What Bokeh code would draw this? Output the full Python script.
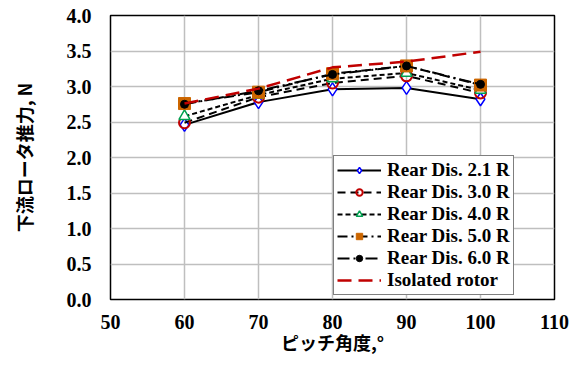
from bokeh.plotting import figure
from bokeh.models import FixedTicker, NumeralTickFormatter, Legend, LegendItem, Range1d
from bokeh.embed import file_html
from bokeh.resources import INLINE

pitch = [60, 70, 80, 90, 100]
rear_21 = [2.46, 2.78, 2.96, 2.98, 2.82]
rear_30 = [2.49, 2.85, 3.05, 3.15, 2.91]
rear_40 = [2.58, 2.88, 3.11, 3.19, 2.95]
rear_50 = [2.76, 2.92, 3.18, 3.29, 3.02]
rear_60 = [2.75, 2.94, 3.17, 3.29, 3.03]
isolated = [2.76, 2.97, 3.27, 3.35, 3.49]
labels = ["Rear Dis. 2.1 R", "Rear Dis. 3.0 R", "Rear Dis. 4.0 R",
          "Rear Dis. 5.0 R", "Rear Dis. 6.0 R", "Isolated rotor"]
x_title = "ピッチ角度,°"
y_title = "下流ロータ推力, N"

p = figure(width=571, height=357, output_backend="svg", toolbar_location=None,
           x_range=Range1d(50, 110), y_range=Range1d(0, 4))
p.min_border_left = 110
p.min_border_right = 17
p.min_border_top = 15
p.min_border_bottom = 57
p.outline_line_color = "black"
p.outline_line_width = 1.5
p.background_fill_color = "white"
p.border_fill_color = "white"

p.xaxis.ticker = FixedTicker(ticks=[50, 60, 70, 80, 90, 100, 110])
p.yaxis.ticker = FixedTicker(ticks=[0, 0.5, 1, 1.5, 2, 2.5, 3, 3.5, 4])
p.yaxis.formatter = NumeralTickFormatter(format="0.0")
for ax in (p.xaxis[0], p.yaxis[0]):
    ax.axis_line_color = None
    ax.major_tick_line_color = None
    ax.minor_tick_line_color = None
    ax.major_tick_out = 0
    ax.major_tick_in = 0
    ax.major_label_text_font = "Liberation Serif"
    ax.major_label_text_font_style = "bold"
    ax.major_label_text_font_size = "20px"
    ax.major_label_text_line_height = 1.0
    ax.major_label_text_color = "black"
    ax.axis_label_text_font = "Noto Sans CJK JP"
    ax.axis_label_text_font_style = "bold"
    ax.axis_label_text_font_size = "18px"
    ax.axis_label_text_line_height = 1.0
    ax.axis_label_text_color = "black"
p.xaxis.axis_label = x_title
p.yaxis.axis_label = y_title
p.xaxis.major_label_standoff = 15
p.yaxis.major_label_standoff = 19
p.xaxis.axis_label_standoff = -3
p.yaxis.axis_label_standoff = 27

p.grid.grid_line_color = "#bfbfbf"
p.grid.grid_line_width = 1.5

items = []
l1 = p.line(pitch, rear_21, line_color="black", line_width=2)
s1 = p.scatter(pitch, rear_21, marker="diamond", size=13, fill_color="white", line_color="blue", line_width=1.5)
items.append(LegendItem(label=labels[0], renderers=[l1, s1]))

l2 = p.line(pitch, rear_30, line_color="black", line_width=2, line_dash="8 5")
s2 = p.scatter(pitch, rear_30, marker="circle", size=11, fill_color=None, line_color="#c00000", line_width=2)
items.append(LegendItem(label=labels[1], renderers=[l2, s2]))

l3 = p.line(pitch, rear_40, line_color="black", line_width=2, line_dash="5 3")
s3 = p.scatter(pitch, rear_40, marker="triangle", size=11, fill_color="white", line_color="#00a050", line_width=1.5)
items.append(LegendItem(label=labels[2], renderers=[l3, s3]))

l4 = p.line(pitch, rear_50, line_color="black", line_width=2, line_dash="10 4 2 4")
s4 = p.scatter(pitch, rear_50, marker="square", size=12, fill_color="#cc6600", line_color="#cc6600")
items.append(LegendItem(label=labels[3], renderers=[l4, s4]))

l5 = p.line(pitch, rear_60, line_color="black", line_width=2, line_dash="12 4 2 4 2 4")
s5 = p.scatter(pitch, rear_60, marker="circle", size=8, fill_color="black", line_color="black")
items.append(LegendItem(label=labels[4], renderers=[l5, s5]))

l6 = p.line(pitch, isolated, line_color="#c00000", line_width=2.5, line_dash="14 7")
items.append(LegendItem(label=labels[5], renderers=[l6]))

legend = Legend(items=items, location=(223, 4))
legend.margin = 0
legend.padding = 3
legend.spacing = 0
legend.glyph_width = 44
legend.glyph_height = 16
legend.label_height = 16
legend.label_width = 120
legend.label_standoff = 6
legend.label_text_font = "Liberation Serif"
legend.label_text_font_style = "bold"
legend.label_text_font_size = "19px"
legend.label_text_line_height = 0.85
legend.label_text_color = "black"
legend.border_line_color = "black"
legend.border_line_width = 1.5
legend.background_fill_alpha = 1
p.add_layout(legend, "center")

open("out.html", "w").write(file_html(p, INLINE))
